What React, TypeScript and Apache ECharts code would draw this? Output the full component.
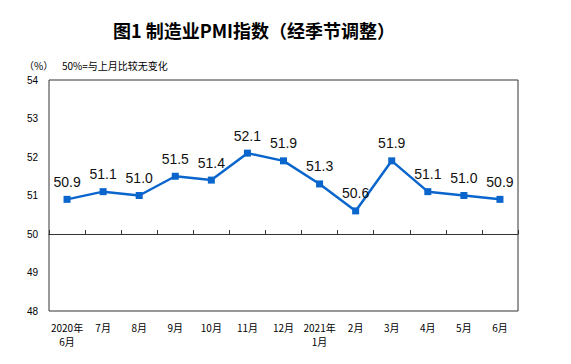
import React, { useEffect, useRef } from "react";
import * as echarts from "echarts";

const categories = [
  "2020年\n6月", "7月", "8月", "9月", "10月", "11月", "12月",
  "2021年\n1月", "2月", "3月", "4月", "5月", "6月",
];
const pmi = [50.9, 51.1, 51.0, 51.5, 51.4, 52.1, 51.9, 51.3, 50.6, 51.9, 51.1, 51.0, 50.9];
const yMin = 48;
const yMax = 54;
const yStep = 1;
const baseline = 50;

const titleText = "图1 制造业PMI指数（经季节调整）";
const unitText = "（%）";
const noteText = "50%=与上月比较无变化";

export default function App() {
  const ref = useRef<HTMLDivElement>(null);
  useEffect(() => {
    if (!ref.current) return;
    const chart = echarts.init(ref.current, undefined, { renderer: "svg" });
    const gridTop = 80;
    const gridHeight = 231;
    const offset = -gridHeight * (baseline - yMin) / (yMax - yMin);
    chart.setOption({
      animation: false,
      backgroundColor: "#ffffff",
      textStyle: { fontFamily: "'Noto Sans CJK SC', 'Liberation Sans', sans-serif" },
      graphic: [
        {
          type: "text",
          x: 254,
          y: 30,
          style: {
            text: titleText,
            fill: "#000",
            font: "bold 18px 'Noto Sans CJK SC', sans-serif",
            textAlign: "center",
            textVerticalAlign: "middle",
          },
        },
        {
          type: "text",
          x: 24,
          y: 65,
          style: {
            text: unitText,
            fill: "#000",
            font: "10px 'Noto Sans CJK SC', sans-serif",
            textVerticalAlign: "middle",
          },
        },
        {
          type: "text",
          x: 62,
          y: 65,
          style: {
            text: noteText,
            fill: "#000",
            font: "10px 'Noto Sans CJK SC', sans-serif",
            textVerticalAlign: "middle",
          },
        },
      ],
      grid: {
        left: 49,
        top: gridTop,
        width: 469,
        height: gridHeight,
        show: true,
        borderColor: "#333",
        borderWidth: 1,
        backgroundColor: "transparent",
      },
      xAxis: [
        {
          type: "category",
          data: categories,
          position: "bottom",
          boundaryGap: true,
          axisLine: { show: false },
          axisTick: { show: false },
          axisLabel: {
            fontSize: 10,
            lineHeight: 14,
            color: "#000",
            margin: 9,
            interval: 0,
            fontFamily: "'Noto Sans CJK SC', sans-serif",
          },
        },
        {
          type: "category",
          data: categories,
          position: "bottom",
          offset: offset,
          boundaryGap: true,
          axisLine: { show: true, lineStyle: { color: "#333", width: 1 } },
          axisTick: { show: true, inside: true, length: 4, interval: 0, lineStyle: { color: "#333" } },
          axisLabel: { show: false },
        },
      ],
      yAxis: {
        type: "value",
        min: yMin,
        max: yMax,
        interval: yStep,
        axisLine: { show: false },
        axisTick: { show: false },
        splitLine: { show: false },
        axisLabel: {
          fontSize: 10,
          color: "#000",
          margin: 11,
          fontFamily: "'Liberation Sans', sans-serif",
        },
      },
      series: [
        {
          type: "line",
          data: pmi,
          xAxisIndex: 0,
          symbol: "rect",
          symbolSize: 7,
          lineStyle: { color: "#0a66cc", width: 2.5 },
          itemStyle: { color: "#0a66cc" },
          label: {
            show: true,
            position: "top",
            distance: 7,
            fontSize: 14,
            color: "#111",
            fontFamily: "'Liberation Sans', Arial, sans-serif",
            formatter: (p: any) => Number(p.value).toFixed(1),
          },
        },
      ],
    });
    return () => chart.dispose();
  }, []);
  return (
    <div
      ref={ref}
      style={{ position: "fixed", left: 0, top: 0, width: 571, height: 364 }}
    />
  );
}
